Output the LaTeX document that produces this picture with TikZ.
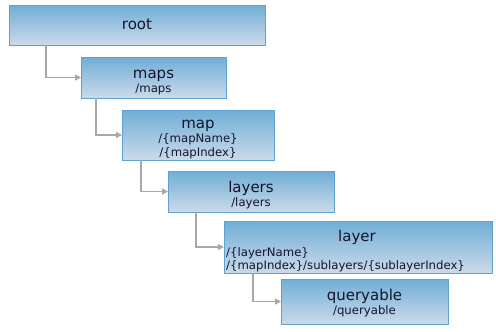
\documentclass[tikz,border=0pt]{standalone}
\usepackage{fontspec}
\setmainfont{DejaVu Sans}
\usetikzlibrary{arrows.meta}
\definecolor{boxtop}{HTML}{6FAED6}
\definecolor{boxbot}{HTML}{CCDAEA}
\definecolor{boxline}{HTML}{5FA2CF}
\definecolor{connc}{HTML}{A8A8A8}
\definecolor{txt}{HTML}{14142A}
\tikzset{
  box/.style={rectangle, draw=boxline, line width=1pt, top color=boxtop, bottom color=boxbot, anchor=north west, inner sep=0pt, outer sep=0pt},
  ttl/.style={font=\fontsize{15}{17}\selectfont, text=txt, inner sep=0pt, anchor=base},
  sub/.style={font=\fontsize{11.7}{13}\selectfont, text=txt, inner sep=0pt, anchor=base},
  subl/.style={sub, anchor=base west},
  conn/.style={draw=connc, line width=1.4pt, -{Triangle[length=6pt,width=6pt]}}
}
\begin{document}
\begin{tikzpicture}[x=1pt,y=-1pt]
\useasboundingbox (0,0) rectangle (496,332);
% boxes
\node[box, minimum width=256pt, minimum height=40pt] (root) at (9,5) {};
\node[box, minimum width=145pt, minimum height=41pt] (maps) at (81,57) {};
\node[box, minimum width=152pt, minimum height=50pt] (map) at (122,110) {};
\node[box, minimum width=166pt, minimum height=41pt] (layers) at (168,171) {};
\node[box, minimum width=268pt, minimum height=52pt] (layer) at (224,221) {};
\node[box, minimum width=167pt, minimum height=45pt] (queryable) at (281,279) {};
% texts
\node[ttl] (t1) at (137,30) {root};
\node[ttl] (t2) at (153.5,78) {maps};
\node[sub] (s2) at (153.5,92) {/maps};
\node[ttl] (t3) at (198,128) {map};
\node[sub] (s3a) at (198,142) {/\{mapName\}};
\node[sub] (s3b) at (198,156) {/\{mapIndex\}};
\node[ttl] (t4) at (251,192) {layers};
\node[sub] (s4) at (251,206) {/layers};
\node[ttl] (t5) at (357,241) {layer};
\node[subl] (s5a) at (226,256) {/\{layerName\}};
\node[subl] (s5b) at (226,269) {/\{mapIndex\}/sublayers/\{sublayerIndex\}};
\node[ttl] (t6) at (364.5,300) {queryable};
\node[sub] (s6) at (364.5,314) {/queryable};
% connectors
\draw[conn] ([xshift=37pt]root.south west) |- (maps.west);
\draw[conn] ([xshift=15pt]maps.south west) |- (map.west);
\draw[conn] ([xshift=19pt]map.south west) |- (layers.west);
\draw[conn] ([xshift=28pt]layers.south west) |- (layer.west);
\draw[conn] ([xshift=29pt]layer.south west) |- (queryable.west);
\end{tikzpicture}
\end{document}
